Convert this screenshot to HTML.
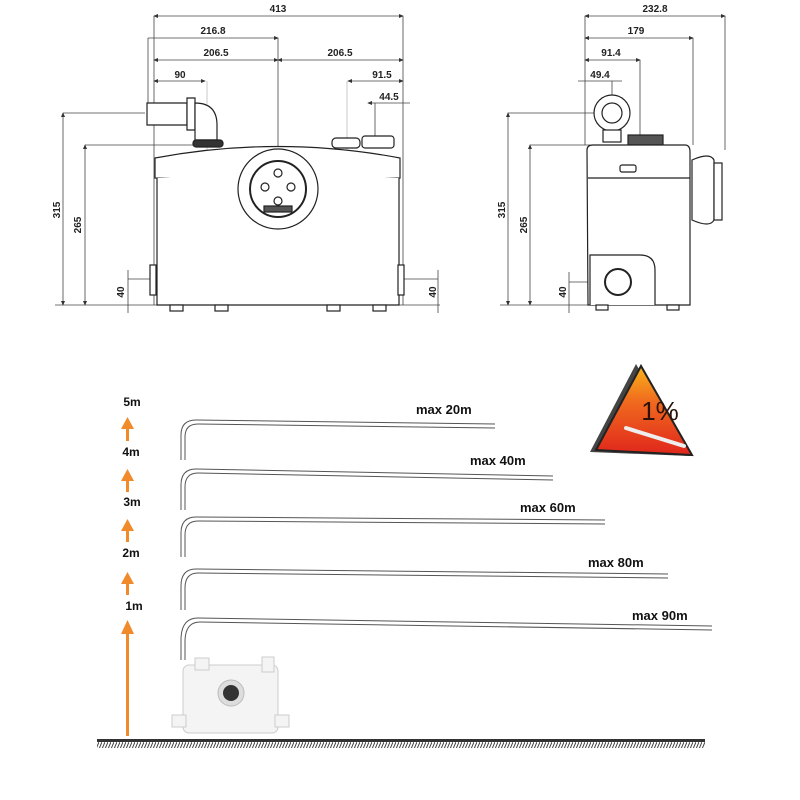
<!DOCTYPE html>
<html><head><meta charset="utf-8"><style>
html,body{margin:0;padding:0;background:#fff;}
svg{display:block;}
text{font-family:"Liberation Sans",sans-serif;}
</style></head><body>
<svg width="800" height="800" viewBox="0 0 800 800" xmlns="http://www.w3.org/2000/svg">
<defs>
<marker id="a" markerWidth="6" markerHeight="6" refX="5" refY="3" orient="auto-start-reverse"><path d="M0,0.5 L6,3 L0,5.5z" fill="#333"/></marker>
<linearGradient id="tg" x1="0" y1="0" x2="0" y2="1"><stop offset="0" stop-color="#f9b31a"/><stop offset="0.4" stop-color="#f06a1e"/><stop offset="1" stop-color="#e0261c"/></linearGradient>
<pattern id="h" width="3" height="7" patternUnits="userSpaceOnUse"><line x1="3" y1="0" x2="0" y2="7" stroke="#444" stroke-width="1"/></pattern>
</defs>
<g stroke="#444" stroke-width="0.8" fill="none">
<line x1="154" y1="16" x2="403" y2="16" marker-start="url(#a)" marker-end="url(#a)"/>
<line x1="148" y1="38" x2="278" y2="38" marker-end="url(#a)"/>
<line x1="154" y1="60" x2="278" y2="60" marker-start="url(#a)" marker-end="url(#a)"/>
<line x1="278" y1="60" x2="403" y2="60" marker-start="url(#a)" marker-end="url(#a)"/>
<line x1="154" y1="81" x2="205" y2="81" marker-start="url(#a)" marker-end="url(#a)"/>
<line x1="348" y1="81" x2="403" y2="81" marker-start="url(#a)" marker-end="url(#a)"/>
<line x1="368" y1="103" x2="410" y2="103" marker-start="url(#a)"/>
<line x1="154" y1="16" x2="154" y2="305"/><line x1="403" y1="16" x2="403" y2="305"/>
<line x1="148" y1="38" x2="148" y2="110"/><line x1="278" y1="38" x2="278" y2="305"/>
<line x1="207" y1="81" x2="207" y2="305" stroke="#bbb"/><line x1="347" y1="81" x2="347" y2="305" stroke="#bbb"/>
<line x1="375" y1="103" x2="375" y2="140"/>
<line x1="63" y1="113" x2="63" y2="305" marker-start="url(#a)" marker-end="url(#a)"/>
<line x1="63" y1="113" x2="145" y2="113"/>
<line x1="85" y1="145" x2="85" y2="305" marker-start="url(#a)" marker-end="url(#a)"/>
<line x1="85" y1="145" x2="195" y2="145"/>
<line x1="55" y1="305" x2="440" y2="305"/>
<line x1="128" y1="270" x2="128" y2="313"/><line x1="128" y1="279" x2="168" y2="279"/>
<line x1="438" y1="270" x2="438" y2="313"/><line x1="388" y1="279" x2="438" y2="279"/>
<line x1="585" y1="16" x2="725" y2="16" marker-start="url(#a)" marker-end="url(#a)"/>
<line x1="585" y1="38" x2="693" y2="38" marker-start="url(#a)" marker-end="url(#a)"/>
<line x1="585" y1="60" x2="640" y2="60" marker-start="url(#a)" marker-end="url(#a)"/>
<line x1="578" y1="81" x2="622" y2="81"/>
<line x1="585" y1="16" x2="585" y2="145"/><line x1="725" y1="16" x2="725" y2="150"/>
<line x1="693" y1="38" x2="693" y2="145"/><line x1="640" y1="60" x2="640" y2="135"/>
<line x1="612" y1="81" x2="612" y2="98"/>
<line x1="508" y1="113" x2="508" y2="305" marker-start="url(#a)" marker-end="url(#a)"/>
<line x1="508" y1="113" x2="598" y2="113"/>
<line x1="530" y1="145" x2="530" y2="305" marker-start="url(#a)" marker-end="url(#a)"/>
<line x1="530" y1="145" x2="595" y2="145"/>
<line x1="500" y1="305" x2="690" y2="305"/>
<line x1="569" y1="272" x2="569" y2="313"/><line x1="569" y1="282" x2="640" y2="282"/>
</g>
<g font-size="10" font-weight="bold" fill="#222" text-anchor="middle">
<text x="278" y="12">413</text><text x="213" y="34">216.8</text>
<text x="216" y="56">206.5</text><text x="340" y="56">206.5</text>
<text x="180" y="78">90</text><text x="382" y="78">91.5</text><text x="389" y="100">44.5</text>
<text x="655" y="12">232.8</text><text x="636" y="34">179</text><text x="611" y="56">91.4</text><text x="600" y="78">49.4</text>
<text transform="translate(60,210) rotate(-90)">315</text>
<text transform="translate(81,225) rotate(-90)">265</text>
<text transform="translate(124,292) rotate(-90)">40</text>
<text transform="translate(436,292) rotate(-90)">40</text>
<text transform="translate(505,210) rotate(-90)">315</text>
<text transform="translate(527,225) rotate(-90)">265</text>
<text transform="translate(566,292) rotate(-90)">40</text>
</g>
<g stroke="#222" stroke-width="1.2" fill="#fff">
<path d="M147,103 h40 v22 h-40z"/>
<path d="M187,98 h8 v32 h-8z"/>
<path d="M195,103 q22,0 22,22 v15 h-22z"/>
<rect x="193" y="140" width="30" height="7" rx="3" fill="#333"/>
<rect x="332" y="138" width="28" height="10" rx="4"/>
<rect x="362" y="136" width="32" height="12" rx="3"/>
<path d="M155,158 Q278,135 400,158 L400,178 Q340,180 318,183 L238,183 Q210,180 155,178z"/>
<path d="M157,178 L157,305 L399,305 L399,178"/>
<rect x="150" y="265" width="6" height="30"/><rect x="398" y="265" width="6" height="30"/>
<rect x="170" y="305" width="13" height="6"/><rect x="215" y="305" width="13" height="6"/>
<rect x="327" y="305" width="13" height="6"/><rect x="373" y="305" width="13" height="6"/>
<circle cx="278" cy="189" r="40"/>
<circle cx="278" cy="189" r="28" stroke-width="2"/>
<circle cx="278" cy="173" r="4"/><circle cx="265" cy="187" r="4"/><circle cx="291" cy="187" r="4"/><circle cx="278" cy="201" r="4"/>
<rect x="264" y="206" width="28" height="6" fill="#555"/>
</g>
<g stroke="#222" stroke-width="1.2" fill="#fff">
<circle cx="612" cy="113" r="18"/><circle cx="612" cy="113" r="10"/>
<rect x="603" y="130" width="18" height="12"/>
<rect x="628" y="135" width="35" height="10" fill="#555"/>
<path d="M587,150 Q587,145 593,145 L685,145 Q690,145 690,152 L690,305 L588,305z"/>
<line x1="588" y1="178" x2="690" y2="178"/>
<rect x="620" y="165" width="16" height="7" rx="2"/>
<path d="M692,160 q18,-8 22,0 v60 q-4,8 -22,0z"/>
<rect x="714" y="163" width="8" height="57"/>
<path d="M590,305 V255 H640 Q655,255 655,270 V305"/>
<circle cx="618" cy="282" r="13" stroke-width="2"/>
<rect x="596" y="305" width="12" height="5"/><rect x="667" y="305" width="12" height="5"/>
</g>
<g fill="#f08a2a">
<rect x="126" y="428" width="3" height="13"/><path d="M121,429 L127.5,417 L134,429z"/>
<rect x="126" y="480" width="3" height="12"/><path d="M121,481 L127.5,469 L134,481z"/>
<rect x="126" y="530" width="3" height="12"/><path d="M121,531 L127.5,519 L134,531z"/>
<rect x="126" y="583" width="3" height="12"/><path d="M121,584 L127.5,572 L134,584z"/>
<rect x="126" y="630" width="3" height="106"/><path d="M121,634 L127.5,620 L134,634z"/>
</g>
<g font-size="12" font-weight="bold" fill="#111" text-anchor="middle">
<text x="132" y="406">5m</text><text x="131" y="456">4m</text><text x="132" y="506">3m</text>
<text x="131" y="557">2m</text><text x="134" y="610">1m</text>
</g>
<g fill="none" stroke="#555" stroke-width="1">
<path d="M181,460 V435 Q181,420 196,420 L495,424"/><path d="M185,460 V437 Q185,424 198,424 L495,428"/>
<path d="M181,510 V485 Q181,469 196,469 L553,476"/><path d="M185,510 V487 Q185,473 198,473 L553,480"/>
<path d="M181,557 V533 Q181,517 196,517 L605,520"/><path d="M185,557 V535 Q185,521 198,521 L605,524"/>
<path d="M181,610 V586 Q181,569 196,569 L668,574"/><path d="M185,610 V588 Q185,573 198,573 L668,578"/>
<path d="M181,660 V640 Q181,618 198,618 L712,626"/><path d="M185,660 V642 Q185,622 200,622 L712,630"/>
</g>
<g font-size="13" font-weight="bold" fill="#111">
<text x="416" y="414">max 20m</text><text x="470" y="465">max 40m</text><text x="520" y="512">max 60m</text>
<text x="588" y="567">max 80m</text><text x="632" y="620">max 90m</text>
</g>
<path d="M636,364 L590,452 L690,456z" fill="#444"/>
<path d="M641,366 L596,450 L692,455z" fill="url(#tg)" stroke="#222" stroke-width="2"/>
<text x="660" y="420" font-size="26" fill="#2a120a" text-anchor="middle">1%</text>
<line x1="626" y1="428" x2="684" y2="446" stroke="#eee" stroke-width="4" stroke-linecap="round"/>
<g fill="#f4f4f4" stroke="#ccc">
<rect x="183" y="665" width="95" height="68" rx="6"/>
<rect x="262" y="657" width="12" height="15"/>
<rect x="195" y="658" width="14" height="12"/>
<rect x="172" y="715" width="14" height="12"/><rect x="275" y="715" width="14" height="12"/>
</g>
<circle cx="231" cy="693" r="13" fill="#ddd" stroke="#bbb"/>
<circle cx="231" cy="693" r="8" fill="#333"/>
<rect x="97" y="739" width="608" height="3" fill="#333"/>
<rect x="97" y="742" width="608" height="6" fill="url(#h)"/>
</svg>
</body></html>
